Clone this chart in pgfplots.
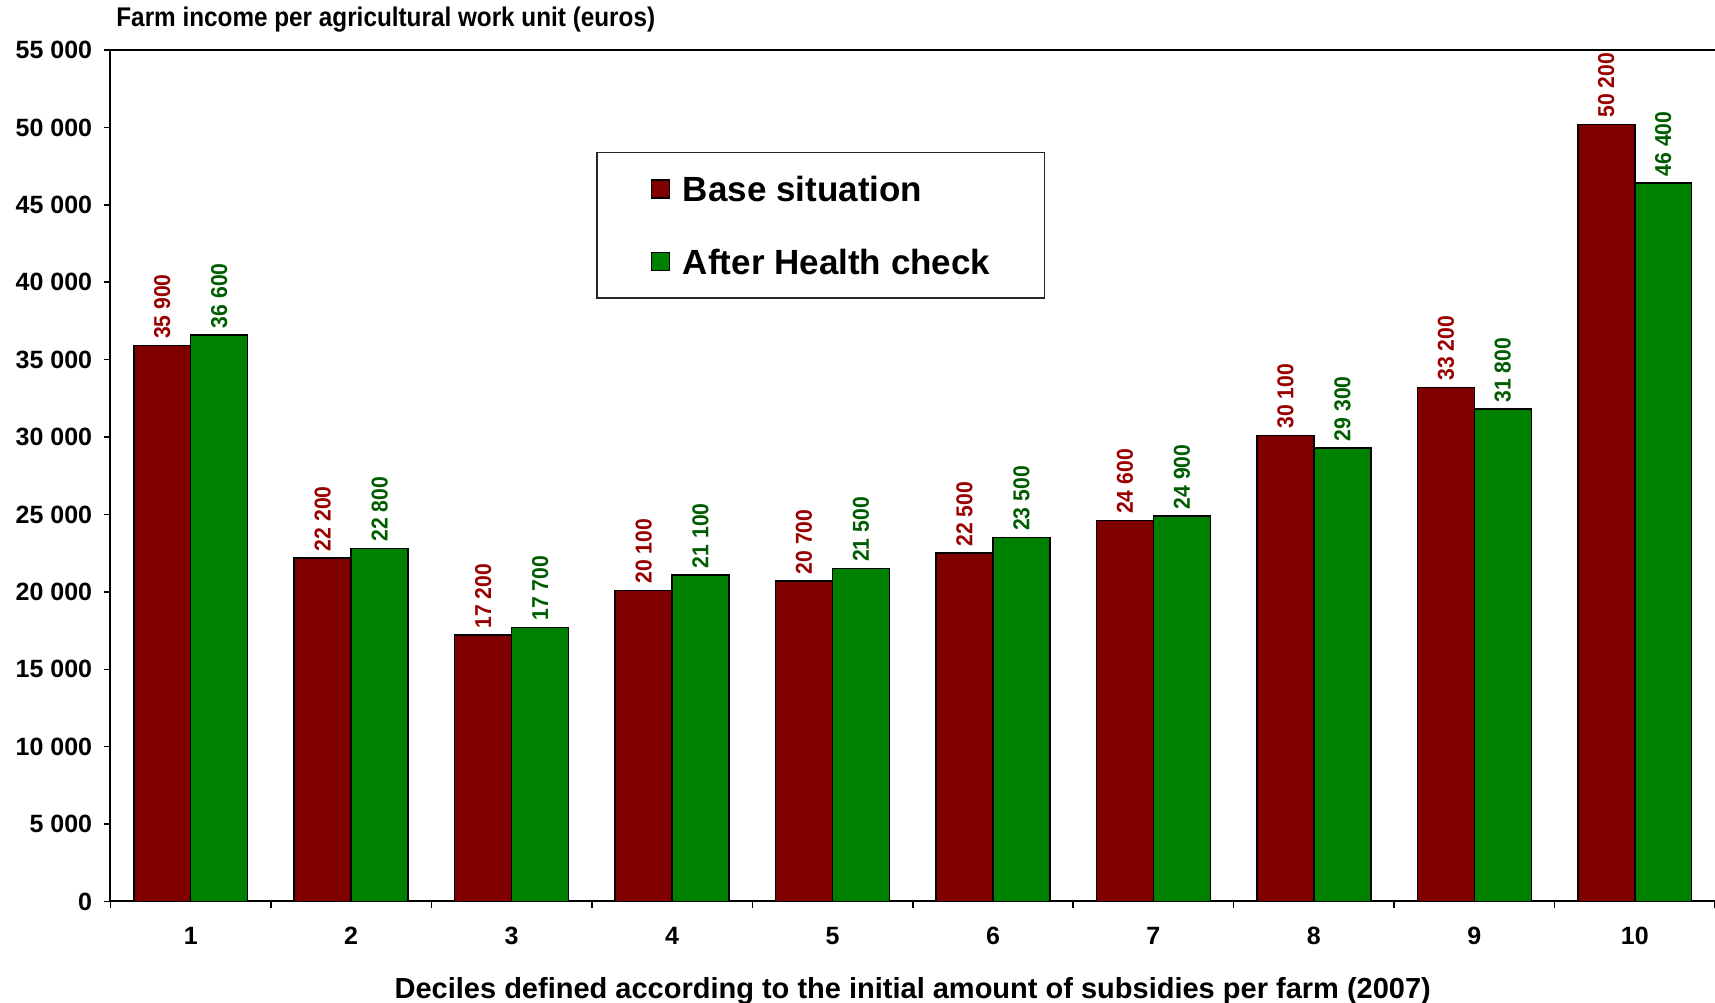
\documentclass[border=0pt]{standalone}
\usepackage{fontspec}
\setmainfont{Liberation Sans}
\newfontfamily\narrowfont{Liberation Sans}[FakeStretch=0.92]
\newfontfamily\titlefont{Liberation Sans}[FakeStretch=0.9]
\usepackage{pgfplots}
\usepackage{pgfplotstable}
\pgfplotsset{compat=1.18}
\definecolor{barred}{HTML}{800000}
\definecolor{bargreen}{HTML}{008000}
\definecolor{labred}{HTML}{9A0000}
\definecolor{labgreen}{HTML}{005C00}
\pgfkeys{/pgf/number format/.cd, 1000 sep={\ }, assume math mode=true}

\pgfplotstableread{
x base after
1 35900 36600
2 22200 22800
3 17200 17700
4 20100 21100
5 20700 21500
6 22500 23500
7 24600 24900
8 30100 29300
9 33200 31800
10 50200 46400
}\datatable

\begin{document}
\begin{tikzpicture}
\begin{axis}[
  scale only axis,
  width=802.25pt, height=425.75pt,
  xmin=0.5, xmax=10.5, ymin=0, ymax=55000,
  clip=false,
  axis x line=box, axis y line=left,
  x axis line style={-, line width=1pt},
  y axis line style={-, line width=1pt},
  tick align=outside,
  xtick pos=lower, ytick pos=left,
  major tick length=3.5pt, minor tick length=3.5pt,
  tick style={line width=0.75pt, black},
  xtick={1,...,10},
  minor xtick={0.5,1.5,...,10.5},
  major x tick style={draw=none},
  ytick={0,5000,...,55000},
  scaled y ticks=false,
  yticklabel style={font=\bfseries\fontsize{12.5}{14}\selectfont, anchor=east, inner sep=0pt, xshift=-5.5pt},
  xticklabel style={font=\bfseries\fontsize{12.5}{14}\selectfont, anchor=center, inner sep=0pt, yshift=-13.6pt},
  xlabel={Deciles defined according to the initial amount of subsidies per farm (2007)},
  xlabel style={font=\bfseries\fontsize{14.5}{16}\selectfont, at={(axis description cs:0.5,0)}, anchor=center, inner sep=0pt, yshift=-44.6pt},
  ybar,
  bar width=0.355,
  nodes near coords,
  every node near coord/.append style={rotate=90, anchor=west, inner xsep=3pt, inner ysep=0pt, font=\narrowfont\bfseries\fontsize{11.5}{12}\selectfont},
  every axis plot post/.append style={legend image code/.code={\draw[##1, line width=0.6pt, draw=black] (0pt,-4.5pt) rectangle (9pt,4.5pt);}},
  legend style={at={(0.3026,0.8802)}, anchor=north west, draw=black!85, line width=0.75pt, fill=white,
    font=\bfseries\fontsize{17.5}{20}\selectfont, inner xsep=27pt, inner ysep=11.8pt,
    nodes={inner sep=0pt, text depth=0pt}, column sep=6.5pt, row sep=23.6pt},
  legend cell align=left,
]
\addplot[fill=barred, draw=black, line width=0.75pt, bar shift=-0.1775,
  every node near coord/.append style={text=labred}] table[x=x, y=base] {\datatable};
\addplot[fill=bargreen, draw=black, line width=0.75pt, bar shift=0.1775,
  every node near coord/.append style={text=labgreen}] table[x=x, y=after] {\datatable};
\legend{Base situation, After Health check}
\coordinate (SW) at (rel axis cs:0,0);
\coordinate (NE) at (rel axis cs:1,1);
\node[anchor=west, inner sep=0pt, xshift=2.75pt, yshift=15pt, font=\titlefont\bfseries\fontsize{13.5}{16}\selectfont] at (rel axis cs:0,1) {Farm income per agricultural work unit (euros)};
\end{axis}
\pgfresetboundingbox
\path ([xshift=-55.25pt,yshift=-50.75pt]SW) rectangle ([yshift=25pt]NE);
\end{tikzpicture}
\end{document}
